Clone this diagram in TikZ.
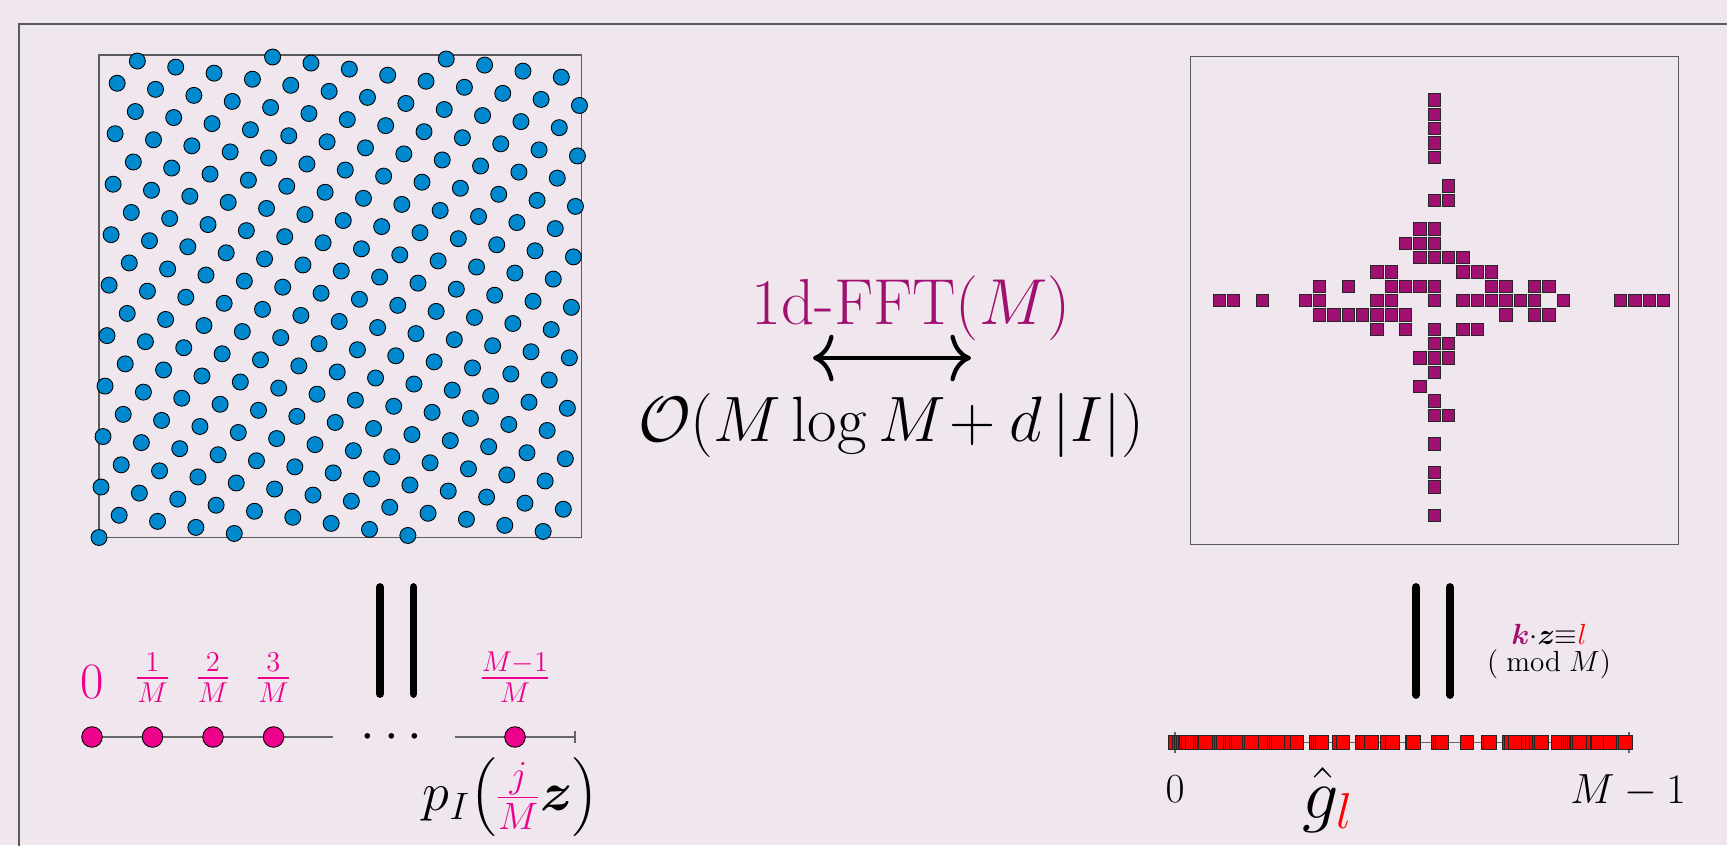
\documentclass[tikz,border=0pt]{standalone}
\usepackage{fix-cm}
\usepackage{amsmath,bm}
\usetikzlibrary{arrows.meta}

\definecolor{bgpink}{RGB}{240,230,238}
\definecolor{latblue}{RGB}{0,137,207}
\definecolor{fftpurple}{RGB}{160,16,112}
\definecolor{dotpink}{RGB}{236,0,140}
\definecolor{framegray}{RGB}{90,90,90}

\newcommand{\fsz}[1]{\fontsize{#1pt}{#1pt}\selectfont}

\begin{document}
\begin{tikzpicture}[x=0.02cm,y=0.02cm,
  lattdot/.style={fill=latblue,draw=black,line width=0.5pt},
  freqsq/.style={fill=fftpurple,draw=black!85,line width=0.5pt},
  redsq/.style={fill=red,draw=black!85,line width=0.4pt},
  pinkdot/.style={fill=dotpink,draw=black,line width=0.5pt},
  numline/.style={draw=black!60,line width=0.8pt},
  bigbar/.style={line width=4.4pt,line cap=round},
  panel/.style={draw=framegray,line width=0.8pt},
  lbl/.style={inner sep=0pt,anchor=base},
  cmtip/.tip={Computer Modern Rightarrow[length=11.7pt,width=26.5pt]}]
  \useasboundingbox (0,0) rectangle (1727,845);
  \fill[bgpink] (0,0) rectangle (1727,845);
  \clip (0,0) rectangle (1727,845);
  \draw[framegray,line width=1.2pt] (19,-10) -- (19,821) -- (1740,821);

  \draw[panel] (99,307.5) rectangle (581.5,790);
  \foreach \j in {0,...,238}{
    \pgfmathsetmacro{\yy}{mod(25*\j,239)}
    \filldraw[lattdot] ({99+\j/239*482.5},{307.5+\yy/239*482.5}) circle (8);
  }

  \node[lbl,text=fftpurple,font=\fsz{37}] (fft) at (911,520) {1d-FFT$(M)$};
  \coordinate (fftL) at (813,487);
  \coordinate (fftR) at (971,487);
  \draw[line width=2.4pt,cmtip-cmtip] (fftL) -- (fftR);
  \node[lbl,font=\fsz{36.5}] (cost) at (891,403.3) {$\mathcal{O}(M\log M\!+d\,|I|)$};

  \draw[bigbar] (380,258) -- (380,151);
  \draw[bigbar] (413.6,258) -- (413.6,151);
  \draw[bigbar] (1416,258) -- (1416,150);
  \draw[bigbar] (1450,258) -- (1450,150);

  \draw[numline] (92,108) -- (333,108);
  \draw[numline] (455,108) -- (575,108);
  \draw[numline] (575,102) -- (575,114);
  \foreach \x in {92,152.5,213,273.5,515}{\filldraw[pinkdot] (\x,108) circle (10.3);}
  \node[lbl,text=dotpink,font=\fsz{29}] (z0) at (92,146) {$0$};
  \foreach \x/\n in {152.5/1,213/2,273.5/3}{
    \node[lbl,text=dotpink,font=\fsz{23.3}] (f\n) at (\x,157) {$\frac{\n}{M}$};
  }
  \node[lbl,text=dotpink,font=\fsz{23.3}] (fM) at (515,157) {$\frac{M-1}{M}$};
  \node[lbl,font=\fsz{30}] (dots) at (396,95) {$\cdots$};
  \node[lbl,font=\fsz{31}] (pI) at (511,34) {$p_I\bigl(\textcolor{dotpink}{\frac{j}{M}}\bm{z}\bigr)$};

  \draw[panel] (1190.3,300.3) rectangle (1678.3,788.3);
  \draw[numline] (1175,102.7) -- (1629,102.7);
  \draw[numline] (1175,92.2) -- (1175,113.2);
  \draw[numline] (1629,92.2) -- (1629,113.2);
  \foreach \a/\b in {0/14,0/13,0/12,0/11,0/10,1/8,0/7,1/7,-1/5,0/5,-2/4,-1/4,0/4,
    -1/3,0/3,1/3,2/3,-4/2,-3/2,2/2,3/2,4/2,
    -8/1,-6/1,-3/1,-2/1,-1/1,0/1,4/1,5/1,7/1,8/1,
    -15/0,-14/0,-12/0,-9/0,-8/0,-4/0,-3/0,0/0,2/0,3/0,4/0,5/0,6/0,7/0,9/0,13/0,14/0,15/0,16/0,
    -8/-1,-7/-1,-6/-1,-5/-1,-4/-1,-3/-1,-2/-1,5/-1,7/-1,8/-1,
    -4/-2,-2/-2,0/-2,2/-2,3/-2,0/-3,1/-3,-1/-4,0/-4,1/-4,
    0/-5,-1/-6,0/-7,0/-8,1/-8,0/-10,0/-12,0/-13,0/-15}{
    \filldraw[freqsq] ({1434.3+14.33*\a-6.15},{544.3+14.33*\b-6.15}) rectangle ++(12.3,12.3);
    \pgfmathsetmacro{\ll}{Mod(\a+25*\b,239)}
    \filldraw[redsq] ({1175+1.9076*\ll-6.7},96) rectangle ++(13.4,13.4);
  }
  \node[lbl,font=\fsz{23.5}] (r0) at (1175,42) {$0$};
  \node[lbl,font=\fsz{24}] (rM) at (1628,41) {$M-1$};
  \node[lbl,font=\fsz{41}] (ghat) at (1328,27) {$\hat{g}_{\textcolor{red}{l}}$};
  \node[lbl,font=\fsz{16.6}] (cong) at (1549,200) {$\textcolor{fftpurple}{\bm{k}}{\cdot}\bm{z}{\equiv}\textcolor{red}{l}$};
  \node[lbl,font=\fsz{16.6}] (modM) at (1549,173) {$(\;\mathrm{mod}\;M)$};
\end{tikzpicture}
\end{document}
